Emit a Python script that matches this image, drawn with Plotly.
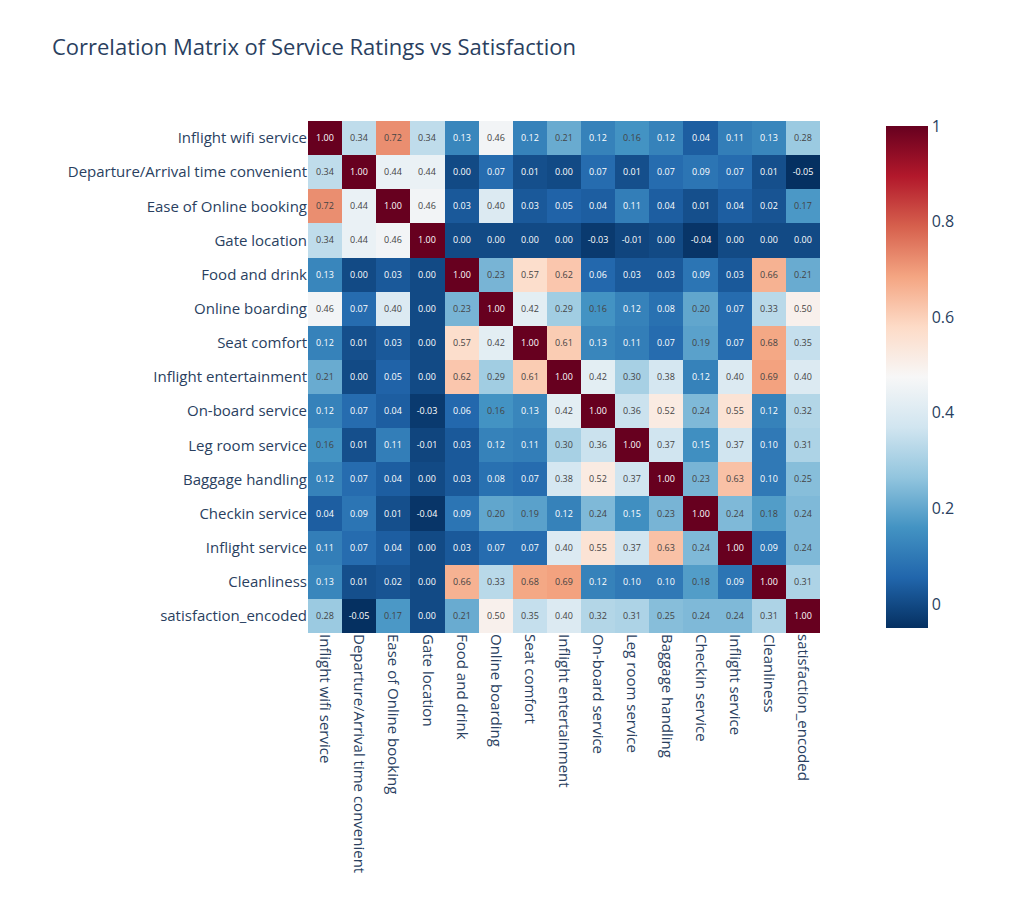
import plotly.graph_objects as go

labels = ["Inflight wifi service", "Departure/Arrival time convenient", "Ease of Online booking",
          "Gate location", "Food and drink", "Online boarding", "Seat comfort",
          "Inflight entertainment", "On-board service", "Leg room service", "Baggage handling",
          "Checkin service", "Inflight service", "Cleanliness", "satisfaction_encoded"]

corr = [
    [1.00, .34, .72, .34, .13, .46, .12, .21, .12, .16, .12, .04, .11, .13, .28],
    [.34, 1.00, .44, .44, .00, .07, .01, .00, .07, .01, .07, .09, .07, .01, -.05],
    [.72, .44, 1.00, .46, .03, .40, .03, .05, .04, .11, .04, .01, .04, .02, .17],
    [.34, .44, .46, 1.00, .00, .00, .00, .00, -.03, -.01, .00, -.04, .00, .00, .00],
    [.13, .00, .03, .00, 1.00, .23, .57, .62, .06, .03, .03, .09, .03, .66, .21],
    [.46, .07, .40, .00, .23, 1.00, .42, .29, .16, .12, .08, .20, .07, .33, .50],
    [.12, .01, .03, .00, .57, .42, 1.00, .61, .13, .11, .07, .19, .07, .68, .35],
    [.21, .00, .05, .00, .62, .29, .61, 1.00, .42, .30, .38, .12, .40, .69, .40],
    [.12, .07, .04, -.03, .06, .16, .13, .42, 1.00, .36, .52, .24, .55, .12, .32],
    [.16, .01, .11, -.01, .03, .12, .11, .30, .36, 1.00, .37, .15, .37, .10, .31],
    [.12, .07, .04, .00, .03, .08, .07, .38, .52, .37, 1.00, .23, .63, .10, .25],
    [.04, .09, .01, -.04, .09, .20, .19, .12, .24, .15, .23, 1.00, .24, .18, .24],
    [.11, .07, .04, .00, .03, .07, .07, .40, .55, .37, .63, .24, 1.00, .09, .24],
    [.13, .01, .02, .00, .66, .33, .68, .69, .12, .10, .10, .18, .09, 1.00, .31],
    [.28, -.05, .17, .00, .21, .50, .35, .40, .32, .31, .25, .24, .24, .31, 1.00],
]

fig = go.Figure(go.Heatmap(
    z=corr, x=labels, y=labels, colorscale="RdBu_r",
    texttemplate="%{z:.2f}", textfont=dict(size=9),
    colorbar=dict(x=1.11, xanchor="left", thickness=42, outlinewidth=0,
                  tickfont=dict(size=16)),
))
fig.update_layout(
    width=1022, height=902,
    title=dict(text="Correlation Matrix of Service Ratings vs Satisfaction", x=0.043, y=0.965,
               font=dict(size=22)),
    margin=dict(l=300, r=210, t=108, b=272),
    plot_bgcolor="white", paper_bgcolor="white",
    font=dict(family="Open Sans", color="#2a3f5f"),
)
fig.update_xaxes(tickangle=90, tickfont=dict(size=15), showgrid=False, constrain="domain")
fig.update_yaxes(autorange="reversed", tickfont=dict(size=15), showgrid=False,
                 scaleanchor="x", constrain="domain")
fig.write_html("out.html")
